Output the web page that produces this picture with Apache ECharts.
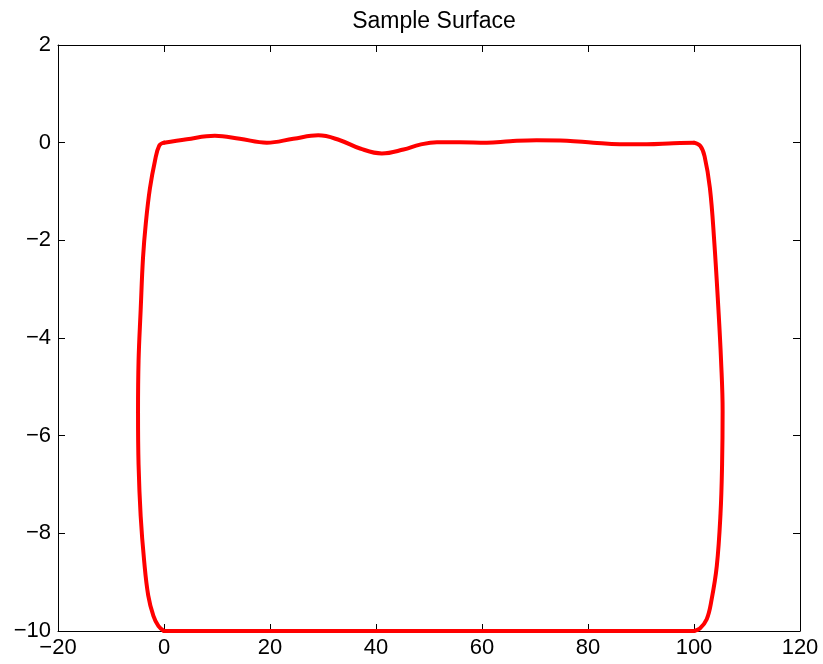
<!DOCTYPE html>
<html>
<head>
<meta charset="utf-8">
<script src="https://cdn.jsdelivr.net/npm/echarts@6/dist/echarts.min.js"></script>
<style>
html,body{margin:0;padding:0;background:#fff;}
#chart{width:823px;height:664px;}
</style>
</head>
<body>
<div id="chart"></div>
<script>
// Surface profile
var topEdge = [[0,0],[4.3,0.07],[9.6,0.14],[14.3,0.08],[19.4,0.0],[24.4,0.08],[29.1,0.15],[33.2,0.05],[37.0,-0.12],[41.1,-0.22],[45.2,-0.14],[48.3,-0.04],[51.5,0.01],[55.8,0.01],[60.9,0.0],[65.3,0.03],[70.3,0.05],[76,0.04],[81,0.0],[86,-0.03],[91.1,-0.03],[96.1,-0.01],[100,0]];
var rightEdge = [[100,0],[101.2,-0.07],[102.0,-0.28],[103.0,-0.93],[103.8,-1.99],[104.6,-3.4],[105.1,-4.45],[105.4,-5.5],[105.3,-6.58],[105.0,-7.6],[104.3,-8.67],[103.3,-9.37],[102.4,-9.76],[101.1,-9.95],[100,-10]];
var bottomEdge = [[100,-10],[0,-10]];
var leftEdge = [[0,-10],[-1.04,-9.9],[-2.0,-9.69],[-2.98,-9.27],[-3.75,-8.56],[-4.4,-7.65],[-4.8,-6.59],[-4.9,-5.53],[-4.8,-4.47],[-4.4,-3.42],[-3.96,-2.36],[-3.43,-1.65],[-2.66,-0.94],[-1.7,-0.37],[-0.9,-0.06],[0,0]];
var xTicks = {min:-20, max:120, step:20};
var yTicks = {min:-10, max:2, step:2};
var titleText = 'Sample Surface';

var FONT = '"Liberation Sans", Arial, Helvetica, sans-serif';
function fmt(v){ return String(v).replace('-', '\u2212'); }
var lineW = 4, red = '#ff0000';
function seg(d){
  return {type:'line', data:d, smooth:0.4, showSymbol:false, symbol:'none',
    lineStyle:{color:red, width:lineW, cap:'round', join:'round'}, xAxisIndex:0, yAxisIndex:0, silent:true, animation:false};
}
function axBase(show){
  return {
    axisLine:{show:true, onZero:false, lineStyle:{color:'#000', width:1}},
    axisTick:{show:true, inside:true, length:7, lineStyle:{color:'#000', width:1}},
    splitLine:{show:false},
    axisLabel:{show:show, color:'#000', fontFamily:FONT, fontSize:22, formatter:fmt}
  };
}
var chart = echarts.init(document.getElementById('chart'), null, {renderer:'canvas'});
var xb = axBase(true); xb.axisLabel.margin = 6;
var yb = axBase(true); yb.axisLabel.margin = 7;
chart.setOption({
  backgroundColor:'#fff',
  animation:false,
  title:{text:titleText, left:429, textAlign:'center', top:5, textStyle:{fontFamily:FONT, fontSize:23, fontWeight:'normal', color:'#000'}},
  grid:{left:58, right:23, top:45, bottom:33, containLabel:false},
  xAxis:[
    Object.assign({type:'value', position:'bottom', min:xTicks.min, max:xTicks.max, interval:xTicks.step}, xb),
    Object.assign({type:'value', position:'top', min:xTicks.min, max:xTicks.max, interval:xTicks.step}, axBase(false))
  ],
  yAxis:[
    Object.assign({type:'value', position:'left', min:yTicks.min, max:yTicks.max, interval:yTicks.step}, yb),
    Object.assign({type:'value', position:'right', min:yTicks.min, max:yTicks.max, interval:yTicks.step}, axBase(false))
  ],
  series:[seg(topEdge), seg(rightEdge), seg(bottomEdge), seg(leftEdge)]
});
</script>
</body>
</html>
